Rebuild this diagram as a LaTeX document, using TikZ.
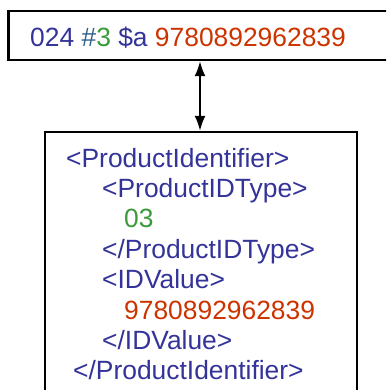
\documentclass[tikz,border=0pt]{standalone}
\usepackage{fontspec}
\setmainfont{Liberation Sans}
\usepackage{xcolor}
\usetikzlibrary{arrows.meta}

\definecolor{tagblue}{HTML}{333399}
\definecolor{indblue}{HTML}{2F6088}
\definecolor{codegreen}{HTML}{3A9A3A}
\definecolor{isbnred}{HTML}{CC3300}

\begin{document}
\begin{tikzpicture}[x=1pt,y=-1pt]
	\useasboundingbox (0,0) rectangle (386,390);
	\clip (0,0) rectangle (386,390);
	\tikzstyle{every node}=[inner sep=0pt,font=\fontsize{26.4}{30.4}\selectfont];
	% the two frames
	\tikzstyle{frame}=[draw,line width=2.2pt];
	\node[frame,minimum width=383pt,minimum height=49pt] (marc) at (200,35.5) {};
	\node[frame,minimum width=312pt,minimum height=268pt] (onix) at (201,266) {};
	% MARC field
	\node[anchor=base west] (field) at (30,46.5) {\color{tagblue}024 \color{indblue}\#\color{codegreen}3 \color{tagblue}\$a \color{isbnred}9780892962839};
	% ONIX element
	\tikzstyle{every node}=[inner sep=0pt,anchor=base west,text=tagblue,font=\fontsize{26.4}{30.4}\selectfont];
	\node (pi) at (66,167) {<ProductIdentifier>};
	\node (pt) at (102,197.4) {<ProductIDType>};
	\node[text=codegreen] (ptv) at (124,227.8) {03};
	\node (pte) at (102,258.2) {</ProductIDType>};
	\node (iv) at (102,288.6) {<IDValue>};
	\node[text=isbnred] (ivv) at (124,319) {9780892962839};
	\node (ive) at (102,349.4) {</IDValue>};
	\node (pie) at (73,379.8) {</ProductIdentifier>};
	\draw[line width=2.2pt,{Latex[length=15pt,width=11pt]}-{Latex[length=15pt,width=11pt]}] (marc.south) -- (marc.south |- onix.north);
\end{tikzpicture}
\end{document}
